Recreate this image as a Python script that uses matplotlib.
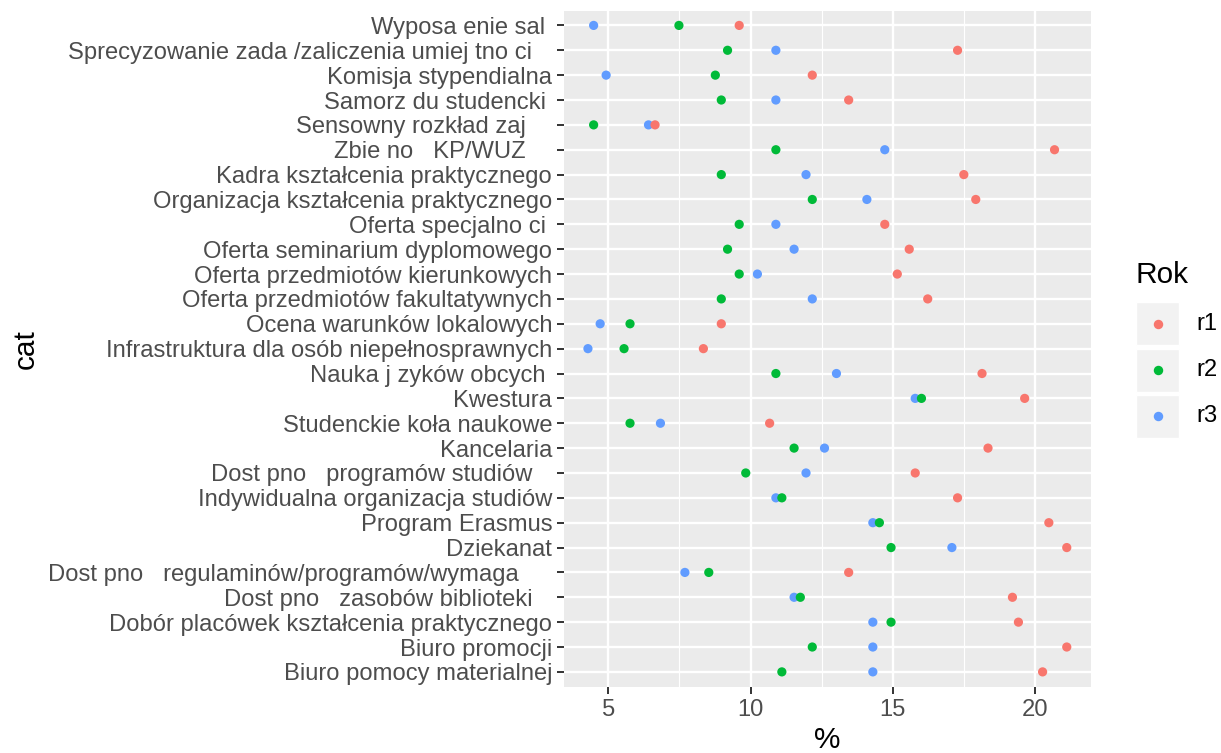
import matplotlib
matplotlib.use("Agg")
import matplotlib.pyplot as plt
from matplotlib.patches import Rectangle
import numpy as np

categories = [
    "Wyposa enie sal ",
    "Sprecyzowanie zada /zaliczenia umiej tno ci   ",
    "Komisja stypendialna",
    "Samorz du studencki ",
    "Sensowny rozkład zaj    ",
    "Zbie no   KP/WUZ    ",
    "Kadra kształcenia praktycznego",
    "Organizacja kształcenia praktycznego",
    "Oferta specjalno ci ",
    "Oferta seminarium dyplomowego",
    "Oferta przedmiotów kierunkowych",
    "Oferta przedmiotów fakultatywnych",
    "Ocena warunków lokalowych",
    "Infrastruktura dla osób niepełnosprawnych",
    "Nauka j zyków obcych ",
    "Kwestura",
    "Studenckie koła naukowe",
    "Kancelaria",
    "Dost pno   programów studiów   ",
    "Indywidualna organizacja studiów",
    "Program Erasmus",
    "Dziekanat",
    "Dost pno   regulaminów/programów/wymaga     ",
    "Dost pno   zasobów biblioteki   ",
    "Dobór placówek kształcenia praktycznego",
    "Biuro promocji",
    "Biuro pomocy materialnej",
]

r1 = [9.60, 17.28, 12.17, 13.45, 6.64, 20.69, 17.50, 17.92, 14.72,
      15.58, 15.16, 16.23, 8.97, 8.34, 18.14, 19.64, 10.67, 18.35,
      15.79, 17.28, 20.49, 21.12, 13.45, 19.21, 19.42, 21.12, 20.27]
r2 = [7.48, 9.19, 8.76, 8.97, 4.48, 10.89, 8.97, 12.17, 9.60,
      9.19, 9.60, 8.97, 5.76, 5.55, 10.89, 16.01, 5.76, 11.53,
      9.83, 11.10, 14.53, 14.94, 8.53, 11.75, 14.94, 12.17, 11.10]
r3 = [4.48, 10.89, 4.92, 10.89, 6.41, 14.72, 11.95, 14.09, 10.89,
      11.53, 10.24, 12.17, 4.71, 4.28, 13.02, 15.79, 6.83, 12.60,
      11.95, 10.89, 14.30, 17.08, 7.69, 11.53, 14.30, 14.30, 14.30]

series_names = ["r1", "r2", "r3"]
series_values = [r1, r2, r3]
colors = ["#F8766D", "#00BA38", "#619CFF"]

x_ticks = [5, 10, 15, 20]
x_minor = [7.5, 12.5, 17.5]

W, H = 1221, 753
fig = plt.figure(figsize=(W / 100, H / 100), dpi=100)
fig.patch.set_facecolor("white")

pl, pr, pt, pb = 564, 1090.7, 10.5, 686.8
ax = fig.add_axes([pl / W, 1 - pb / H, (pr - pl) / W, (pb - pt) / H])
ax.set_facecolor("#EBEBEB")
for s in ax.spines.values():
    s.set_visible(False)

n = len(categories)
ypos = np.arange(n)

# draw order: r3, r2, r1 (r1 on top)
for name, vals, col in reversed(list(zip(series_names, series_values, colors))):
    ax.scatter(vals, ypos, s=44, color=col, edgecolors="none", zorder=3)

allv = np.concatenate([r1, r2, r3])
lo, hi = allv.min(), allv.max()
ex = 0.05 * (hi - lo)
ax.set_xlim(lo - ex, hi + ex)
ax.set_ylim(n - 1 + 0.6, -0.6)

ax.set_xticks(x_ticks)
ax.set_xticklabels([str(t) for t in x_ticks])
ax.set_xticks(x_minor, minor=True)
ax.set_yticks(ypos)
ax.set_yticklabels(categories)

ax.grid(which="major", color="white", linewidth=1.7, zorder=1)
ax.grid(which="minor", axis="x", color="white", linewidth=0.85, zorder=1)
ax.set_axisbelow(True)

ax.tick_params(axis="both", which="major", length=5.3, width=1.4, color="#333333",
               labelsize=17.1, labelcolor="#4D4D4D", pad=3.2)
ax.tick_params(axis="both", which="minor", length=0)
for lab in ax.get_xticklabels() + ax.get_yticklabels():
    lab.set_family("Liberation Sans")

ax.set_xlabel("%", fontsize=21.4, family="Liberation Sans", color="black", labelpad=4)
ax.set_ylabel("cat", fontsize=21.4, family="Liberation Sans", color="black", labelpad=6)

# legend (manual, ggplot style)
fig.text(1136 / W, 1 - 283 / H, "Rok", fontsize=21.4, family="Liberation Sans",
         ha="left", va="baseline", color="black")
key_tops = [302, 348.5, 395]
for name, col, kt in zip(series_names, colors, key_tops):
    rect = Rectangle((1136 / W, 1 - (kt + 43) / H), 43 / W, 43 / H,
                     transform=fig.transFigure, facecolor="#F2F2F2",
                     edgecolor="white", linewidth=1.0)
    fig.add_artist(rect)
    cy = kt + 21.5
    fig.add_artist(plt.Line2D([1157.5 / W], [1 - cy / H], marker="o", markersize=6.8,
                              color=col, markeredgewidth=0, linestyle="none",
                              transform=fig.transFigure))
    fig.text(1196 / W, 1 - cy / H, name, fontsize=17.1, family="Liberation Sans",
             ha="left", va="center", color="black")

fig.savefig("out.png", dpi=100)
